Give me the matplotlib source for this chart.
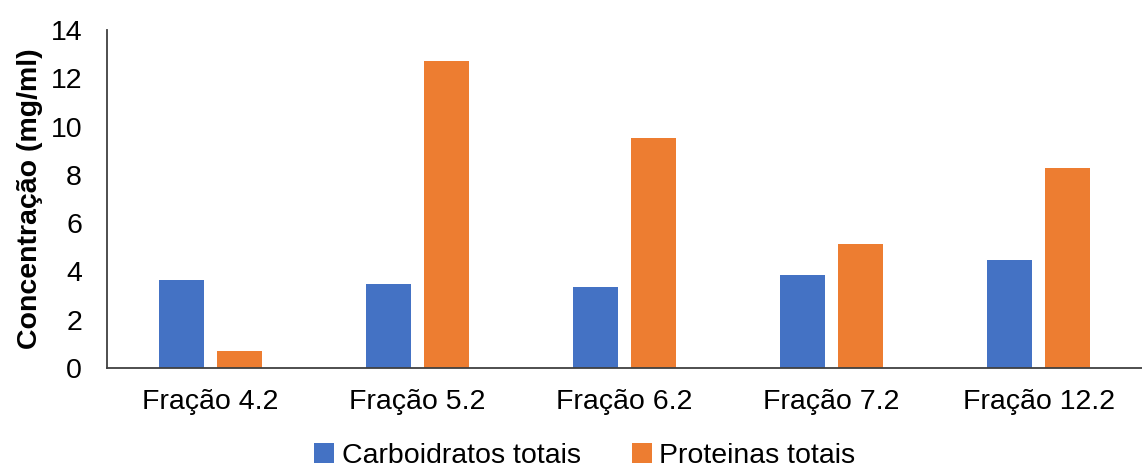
import numpy as np
import matplotlib.pyplot as plt

plt.rcParams['font.family'] = ['Liberation Sans', 'DejaVu Sans']

fracoes = ['Fração 4.2', 'Fração 5.2', 'Fração 6.2', 'Fração 7.2', 'Fração 12.2']
carboidratos = [3.65, 3.49, 3.37, 3.85, 4.47]
proteinas = [0.72, 12.73, 9.51, 5.12, 8.27]

cor_carb = '#4472C4'
cor_prot = '#ED7D31'

fig = plt.figure(figsize=(11.42, 4.70), dpi=100)
ax = fig.add_axes([0.0937, 0.217, 0.9063, 0.719])

x = np.arange(len(fracoes))
w = 0.22
ax.bar(x - 0.141, carboidratos, w, color=cor_carb, label='Carboidratos totais')
ax.bar(x + 0.141, proteinas, w, color=cor_prot, label='Proteinas totais')

ax.set_xlim(-0.5, len(fracoes) - 0.5)
ax.set_ylim(0, 14)
ax.set_yticks(range(0, 15, 2))
ax.set_xticks(x)
ax.set_xticklabels(fracoes)
ax.tick_params(axis='both', length=0, labelsize=20.5, colors='black')
ax.tick_params(axis='x', pad=15)
ax.tick_params(axis='y', pad=18)

for s in ['top', 'right']:
    ax.spines[s].set_visible(False)
for s in ['left', 'bottom']:
    ax.spines[s].set_color('#404040')
    ax.spines[s].set_linewidth(1.3)

ax.set_ylabel('Concentração (mg/ml)', fontsize=20.5, fontweight='bold', labelpad=5)

fig.legend(loc='lower center', bbox_to_anchor=(0.512, -0.052), ncol=2, frameon=False,
           fontsize=20.5, handlelength=0.7, handleheight=0.7, handletextpad=0.25,
           columnspacing=1.8)

fig.savefig('out.png', dpi=100)
